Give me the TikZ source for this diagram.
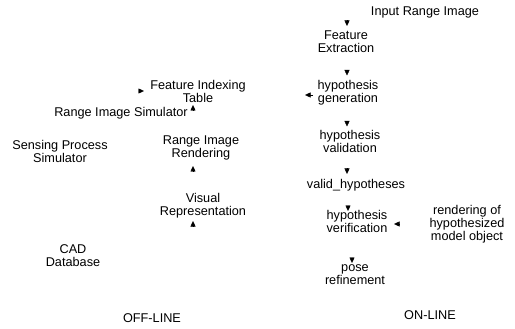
\documentclass[tikz,border=0pt]{standalone}
\usepackage{fontspec}
\setmainfont{Liberation Sans}
\usetikzlibrary{arrows.meta,calc}
\begin{document}
\begin{tikzpicture}[x=1pt,y=-1pt,
  lbl/.style={align=center, inner sep=0pt, font=\fontsize{12.7}{13}\selectfont},
  arr/.style={-{Triangle[width=5pt,length=5.5pt]}, line width=0.4pt, black}]
\useasboundingbox (0,0) rectangle (515,329);
% ON-LINE column
\node[lbl] (inp)  at (425,12)  {Input Range Image};
\node[lbl] (fe)   at (346,41.5){Feature\\Extraction};
\node[lbl] (hg)   at (348,93)  {hypothesis\\generation};
\node[lbl] (hv)   at (350,141.5){hypothesis\\validation};
\node[lbl] (vh)   at (356,185) {valid\_hypotheses};
\node[lbl] (hver) at (357,221.5){hypothesis\\verification};
\node[lbl] (rend) at (467,224.5){rendering of\\hypothesized\\model object};
\node[lbl] (pr)   at (355,275) {pose\\refinement};
\node[lbl] (on)   at (430,315) {ON-LINE};
% OFF-LINE column
\node[lbl] (fit)  at (198,91)  {Feature Indexing\\Table};
\node[lbl] (ris)  at (121,113) {Range Image Simulator};
\node[lbl] (sps)  at (60,151)  {Sensing Process\\Simulator};
\node[lbl] (rir)  at (201,147.5){Range Image\\Rendering};
\node[lbl] (vr)   at (203,206) {Visual\\Representation};
\node[lbl] (cad)  at (73,256)  {CAD\\Database};
\node[lbl] (off)  at (152,318) {OFF-LINE};
% arrow tips (only the heads survive in the scan)
\coordinate (t1) at (347,26);
\coordinate (t2) at (347,75.5);
\coordinate (t3) at (347,126.5);
\coordinate (t4) at (347,174);
\coordinate (t5) at (348,211);
\coordinate (t6) at (352,263);
\coordinate (t7) at (394,224);
\coordinate (t8) at (305,95);
\coordinate (t9) at (144,91);
\coordinate (t10) at (193,105);
\coordinate (t11) at (193,166);
\coordinate (t12) at (193,221);
% connectors
\draw[arr] ($(t1)+(0,-5.5)$) -- (t1);
\draw[arr] ($(t2)+(0,-5.5)$) -- (t2);
\draw[arr] ($(t3)+(0,-5.5)$) -- (t3);
\draw[arr] ($(t4)+(0,-5.5)$) -- (t4);
\draw[arr] ($(t5)+(0,-5.5)$) -- (t5);
\draw[arr] ($(t6)+(0,-5.5)$) -- (t6);
\draw[arr] ($(t7)+(5.5,0)$) -- (t7);
\draw[arr] ($(t8)+(8,0)$) -- (t8);
\draw[arr] ($(t9)+(-5.5,0)$) -- (t9);
\draw[arr] ($(t10)+(0,5.5)$) -- (t10);
\draw[arr] ($(t11)+(0,5.5)$) -- (t11);
\draw[arr] ($(t12)+(0,5.5)$) -- (t12);
\end{tikzpicture}
\end{document}
